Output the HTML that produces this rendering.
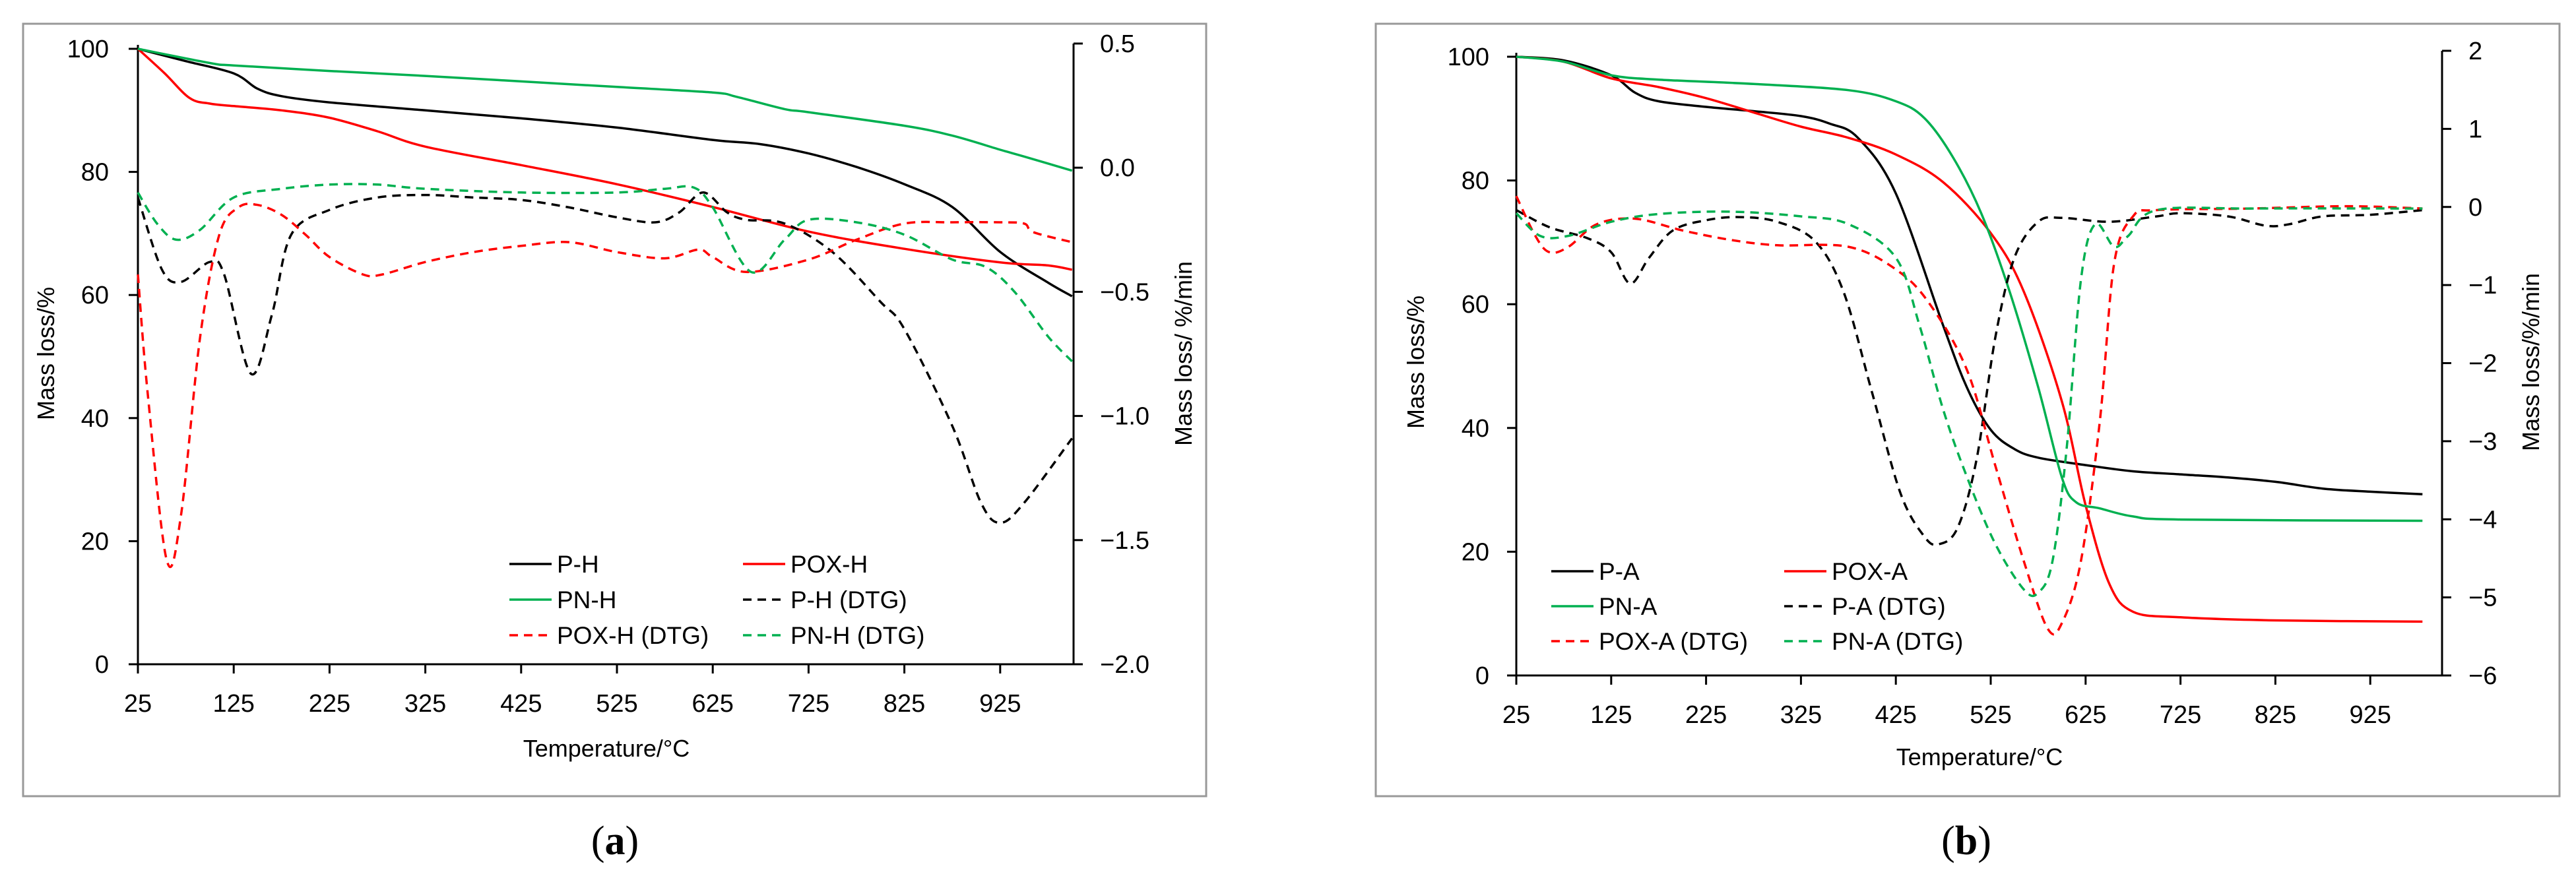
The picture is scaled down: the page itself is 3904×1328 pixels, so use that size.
<!DOCTYPE html>
<html><head><meta charset="utf-8"><style>
html,body{margin:0;padding:0;background:#fff;}
svg{display:block;font-family:"Liberation Sans",sans-serif;}
</style></head><body>
<svg id="fig" width="3904" height="1328" viewBox="0 0 3904 1328" xmlns="http://www.w3.org/2000/svg">
<rect x="35" y="36" width="1793" height="1171" fill="none" stroke="#999" stroke-width="3"/>
<rect x="2085" y="36" width="1794" height="1171" fill="none" stroke="#999" stroke-width="3"/>
<text x="932" y="1295" font-family="Liberation Serif,serif" font-size="62" text-anchor="middle">(<tspan font-weight="bold">a</tspan>)</text>
<text x="2980" y="1295" font-family="Liberation Serif,serif" font-size="62" text-anchor="middle">(<tspan font-weight="bold">b</tspan>)</text>
</svg>
<script>
// ---------- Panel (a) data ----------
const aXTicks = [25,125,225,325,425,525,625,725,825,925];
const aLeftTicks = [0,20,40,60,80,100];
const aRightTicks = [-2.0,-1.5,-1.0,-0.5,0.0,0.5];
const aPH_T = [25,75,125,150,175,225,325,425,525,625,675,725,775,825,875,925,975,1000];
const aPH_V = [100,98,96,93.5,92.3,91.3,90,88.7,87.2,85.2,84.5,83,80.8,78,74.3,67,62,59.8];
const aPOX_T = [25,53,79,100,125,175,225,275,325,425,525,625,725,825,925,975,1000];
const aPOX_V = [100,96,92,91.1,90.7,90,88.8,86.6,84.1,81.1,78,74.3,70.3,67.5,65.3,64.8,64.1];
const aPN_T = [25,100,125,225,325,425,525,625,650,700,725,825,875,925,950,1000];
const aPN_V = [100,97.7,97.3,96.4,95.6,94.7,93.8,92.9,92.2,90.2,89.7,87.5,85.9,83.6,82.5,80.2];
const aPHd_T = [25,50,70,100,115,143,165,185,225,275,325,375,425,475,525,565,590,615,640,660,700,750,800,825,875,905,925,950,1000];
const aPHd_V = [-0.12,-0.41,-0.46,-0.38,-0.43,-0.83,-0.59,-0.27,-0.17,-0.12,-0.11,-0.12,-0.13,-0.16,-0.2,-0.22,-0.18,-0.1,-0.18,-0.21,-0.225,-0.34,-0.54,-0.65,-1.04,-1.35,-1.43,-1.35,-1.09];
const aPOXd_T = [25,35,55,70,90,110,130,150,175,200,225,260,280,325,375,425,475,525,575,610,625,660,725,775,825,875,925,950,960,1000];
const aPOXd_V = [-0.43,-0.9,-1.58,-1.4,-0.68,-0.27,-0.16,-0.15,-0.19,-0.27,-0.36,-0.43,-0.43,-0.38,-0.34,-0.315,-0.3,-0.34,-0.365,-0.33,-0.36,-0.42,-0.37,-0.29,-0.225,-0.22,-0.22,-0.225,-0.26,-0.3];
const aPNd_T = [25,45,65,90,125,175,225,275,325,425,525,575,605,625,665,700,725,775,825,875,910,940,975,1000];
const aPNd_V = [-0.1,-0.225,-0.29,-0.25,-0.12,-0.085,-0.068,-0.068,-0.085,-0.1,-0.1,-0.085,-0.08,-0.16,-0.42,-0.29,-0.21,-0.22,-0.27,-0.37,-0.4,-0.5,-0.68,-0.78];

// ---------- Panel (b) data ----------
const bXTicks = [25,125,225,325,425,525,625,725,825,925];
const bLeftTicks = [0,20,40,60,80,100];
const bRightTicks = [-6,-5,-4,-3,-2,-1,0,1,2];
const bPA_T = [25,75,125,150,175,225,275,325,355,385,425,475,500,525,550,575,625,675,725,775,825,875,925,980];
const bPA_V = [100,99.4,97,94.2,92.8,91.9,91.2,90.4,89.2,86.9,77.9,56.5,46.5,39.7,36.6,35.2,34,33,32.5,32,31.3,30.2,29.7,29.3];
const bPOX_T = [25,75,125,175,225,275,325,375,425,475,525,560,600,625,650,675,725,825,980];
const bPOX_V = [100,99.2,96.5,95.1,93.3,91,88.7,86.9,84.2,79.7,71.5,62,44.3,27.5,14.8,10.3,9.4,8.9,8.7];
const bPN_T = [25,75,125,175,275,375,425,455,485,515,545,575,600,615,640,675,725,980];
const bPN_V = [100,99.2,97,96.3,95.6,94.6,92.8,90.1,83.8,74.7,62,46.6,32,28,27,25.7,25.2,25];
const bPAd_T = [25,60,100,125,145,165,190,225,260,300,340,370,400,430,455,470,490,510,530,550,575,600,650,700,725,775,815,840,875,925,980];
const bPAd_V = [-0.04,-0.26,-0.4,-0.58,-0.98,-0.65,-0.3,-0.17,-0.13,-0.19,-0.44,-1.09,-2.38,-3.67,-4.22,-4.32,-4.11,-3.24,-1.66,-0.65,-0.19,-0.14,-0.19,-0.12,-0.08,-0.12,-0.24,-0.22,-0.12,-0.1,-0.04];
const bPOXd_T = [25,45,60,80,110,150,200,250,300,375,425,460,500,530,560,585,600,620,640,655,675,700,800,900,980];
const bPOXd_V = [0.14,-0.37,-0.58,-0.51,-0.22,-0.15,-0.3,-0.42,-0.49,-0.51,-0.8,-1.23,-2.09,-3.32,-4.54,-5.4,-5.33,-4.54,-2.74,-0.73,-0.12,-0.04,-0.02,0.01,-0.02];
const bPNd_T = [25,50,80,125,175,250,325,375,425,450,475,500,530,560,575,590,605,620,635,655,670,700,800,980];
const bPNd_V = [-0.08,-0.37,-0.37,-0.19,-0.09,-0.06,-0.12,-0.22,-0.65,-1.52,-2.6,-3.46,-4.32,-4.9,-4.94,-4.54,-3.1,-0.94,-0.22,-0.51,-0.37,-0.04,-0.02,-0.02];

const NS = "http://www.w3.org/2000/svg";
const svg = document.getElementById('fig');
function mk(tag, attrs, parent){ const e=document.createElementNS(NS,tag); for(const k in attrs) e.setAttribute(k,attrs[k]); (parent||svg).appendChild(e); return e; }
function smooth(pts){
  let d = "M"+pts[0][0].toFixed(1)+","+pts[0][1].toFixed(1);
  for(let i=0;i<pts.length-1;i++){
    const p0=pts[Math.max(0,i-1)], p1=pts[i], p2=pts[i+1], p3=pts[Math.min(pts.length-1,i+2)];
    const c1=[p1[0]+(p2[0]-p0[0])/6, p1[1]+(p2[1]-p0[1])/6];
    const c2=[p2[0]-(p3[0]-p1[0])/6, p2[1]-(p3[1]-p1[1])/6];
    d += " C"+c1[0].toFixed(1)+","+c1[1].toFixed(1)+" "+c2[0].toFixed(1)+","+c2[1].toFixed(1)+" "+p2[0].toFixed(1)+","+p2[1].toFixed(1);
  }
  return d;
}
const FS = 38;
function panel(cfg){
  const g = mk('g',{});
  
  
  const X = t => cfg.x0 + (t-25)/100*cfg.xper;
  const YL = v => cfg.yBot + (cfg.yTop-cfg.yBot)*(v/100);
  const YR = v => cfg.yBot + (cfg.yRTop-cfg.yBot)*((v-cfg.rMin)/(cfg.rMax-cfg.rMin));
  // axes
  const ax = mk('line',{x1:cfg.x0,y1:cfg.yBot,x2:cfg.xR,y2:cfg.yBot,stroke:'#000','stroke-width':3},g);
   
  const ly = mk('line',{x1:cfg.x0,y1:cfg.yBot,x2:cfg.x0,y2:cfg.yTop-6,stroke:'#000','stroke-width':3},g);
   
  const ry = mk('line',{x1:cfg.xR,y1:cfg.yBot,x2:cfg.xR,y2:cfg.yRTop,stroke:'#000','stroke-width':3},g);
   
  cfg.xTicks.forEach(t=>{
    mk('line',{x1:X(t),y1:cfg.yBot,x2:X(t),y2:cfg.yBot+14,stroke:'#000','stroke-width':3},g);
    const tx = mk('text',{x:X(t),y:cfg.yBot+72,'font-size':FS,'text-anchor':'middle'},g);
    tx.textContent=t;
     
  });
  cfg.lTicks.forEach(v=>{
    mk('line',{x1:cfg.x0-14,y1:YL(v),x2:cfg.x0,y2:YL(v),stroke:'#000','stroke-width':3},g);
    const tx = mk('text',{x:cfg.lLabX,y:YL(v)+13,'font-size':FS,'text-anchor':'end'},g);
    tx.textContent=v;
     
  });
  cfg.rTicks.forEach(v=>{
    mk('line',{x1:cfg.xR,y1:YR(v),x2:cfg.xR+14,y2:YR(v),stroke:'#000','stroke-width':3},g);
    const tx = mk('text',{x:cfg.rLabX,y:YR(v)+13,'font-size':FS,'text-anchor':'start'},g);
    tx.textContent = cfg.rFmt(v);
     
  });
  const xt = mk('text',{x:cfg.xTitleX,y:cfg.xTitleY,'font-size':36,'text-anchor':'middle'},g);
  xt.textContent='Temperature/°C';
   
  const lt = mk('text',{x:0,y:0,'font-size':36,'text-anchor':'middle',transform:`translate(${cfg.lTitleX},${cfg.titleY}) rotate(-90)`},g);
  lt.textContent='Mass loss/%';
   
  const rt = mk('text',{x:0,y:0,'font-size':36,'text-anchor':'middle',transform:`translate(${cfg.rTitleX},${cfg.titleY}) rotate(-90)`},g);
  rt.textContent=cfg.rTitle;
   
  // series
  cfg.series.forEach(s=>{
    const Y = s.right ? YR : YL;
    const pts = s.T.map((t,i)=>[X(t),Y(s.V[i])]);
    const p = mk('path',{d:smooth(pts),fill:'none',stroke:s.color,'stroke-width':3.5,'stroke-dasharray':s.dash?'13,9':'none','stroke-linejoin':'round'},g);
    
    
  });
  // legend
  cfg.series.forEach((s,i)=>{
    const col=i%2, row=Math.floor(i/2);
    const lx = cfg.legX[col], lyy = cfg.legY[row];
    const ln = mk('line',{x1:lx,y1:lyy,x2:lx+64,y2:lyy,stroke:s.color,'stroke-width':3.5,'stroke-dasharray':s.dash?'13,9':'none'},g);
     
    const t = mk('text',{x:lx+72,y:lyy+13,'font-size':37},g);
    t.textContent=s.label;
     
  });
}
panel({name:'panel-a-chart', x0:209, xper:145.2, xR:1627, yBot:1007, yTop:74, yRTop:66, rMin:-2, rMax:0.5,
  xTicks:aXTicks, lTicks:aLeftTicks, rTicks:aRightTicks, rFmt:v=>v.toFixed(1).replace('-','−'),
  lLabX:165, rLabX:1667, xTitleX:919, xTitleY:1147, lTitleX:82, rTitleX:1806, titleY:536, rTitle:'Mass loss/ %/min',
  legX:[772,1126], legY:[855,909,963],
  series:[
    {id:'p-h-line',label:'P-H',T:aPH_T,V:aPH_V,color:'#000',dash:false},
    {id:'pox-h-line',label:'POX-H',T:aPOX_T,V:aPOX_V,color:'#f00',dash:false},
    {id:'pn-h-line',label:'PN-H',T:aPN_T,V:aPN_V,color:'#00b050',dash:false},
    {id:'p-h-dtg-line',label:'P-H (DTG)',T:aPHd_T,V:aPHd_V,color:'#000',dash:true,right:true},
    {id:'pox-h-dtg-line',label:'POX-H (DTG)',T:aPOXd_T,V:aPOXd_V,color:'#f00',dash:true,right:true},
    {id:'pn-h-dtg-line',label:'PN-H (DTG)',T:aPNd_T,V:aPNd_V,color:'#00b050',dash:true,right:true}
  ]});
panel({name:'panel-b-chart', x0:2298, xper:143.8, xR:3701, yBot:1024, yTop:86, yRTop:77, rMin:-6, rMax:2,
  xTicks:bXTicks, lTicks:bLeftTicks, rTicks:bRightTicks, rFmt:v=>String(v).replace('-','−'),
  lLabX:2257, rLabX:3741, xTitleX:3000, xTitleY:1160, lTitleX:2158, rTitleX:3848, titleY:549, rTitle:'Mass loss/%/min',
  legX:[2351,2704], legY:[866,919,972],
  series:[
    {id:'p-a-line',label:'P-A',T:bPA_T,V:bPA_V,color:'#000',dash:false},
    {id:'pox-a-line',label:'POX-A',T:bPOX_T,V:bPOX_V,color:'#f00',dash:false},
    {id:'pn-a-line',label:'PN-A',T:bPN_T,V:bPN_V,color:'#00b050',dash:false},
    {id:'p-a-dtg-line',label:'P-A (DTG)',T:bPAd_T,V:bPAd_V,color:'#000',dash:true,right:true},
    {id:'pox-a-dtg-line',label:'POX-A (DTG)',T:bPOXd_T,V:bPOXd_V,color:'#f00',dash:true,right:true},
    {id:'pn-a-dtg-line',label:'PN-A (DTG)',T:bPNd_T,V:bPNd_V,color:'#00b050',dash:true,right:true}
  ]});
</script>
</body></html>
